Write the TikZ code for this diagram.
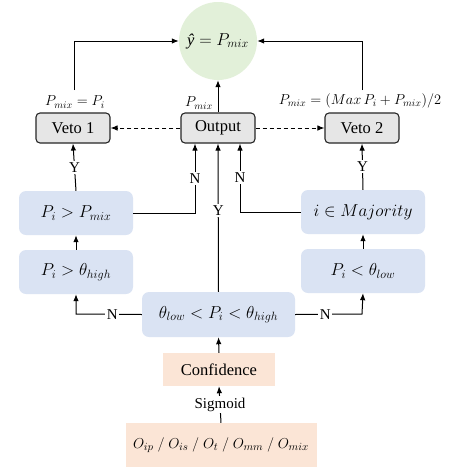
\documentclass[tikz,border=0pt]{standalone}
\usepackage{fontspec}
\setmainfont{Liberation Serif}
\usetikzlibrary{arrows.meta}
\definecolor{boxblue}{RGB}{218,227,243}
\definecolor{peach}{RGB}{251,229,214}
\definecolor{lgreen}{RGB}{226,240,217}
\definecolor{vgray}{RGB}{230,230,230}
\begin{document}
\begin{tikzpicture}[x=1pt,y=-1pt,
  every node/.style={font=\fontsize{16.5}{19}\selectfont},
  bluebox/.style={fill=boxblue, rounded corners=7pt, minimum width=114pt, minimum height=44pt, inner sep=0pt},
  graybox/.style={fill=vgray, draw=black!85, line width=1.1pt, rounded corners=4pt, minimum width=74pt, minimum height=30pt, inner sep=0pt},
  peachbox/.style={fill=peach, inner sep=0pt},
  conn/.style={line width=1pt, -{Latex[length=7pt,width=5.5pt]}},
  dconn/.style={conn, dashed, dash pattern=on 4pt off 3pt},
  yn/.style={fill=white, inner sep=1.5pt, font=\fontsize{15}{17}\selectfont},
  lab/.style={inner sep=0pt, font=\fontsize{14}{16}\selectfont}
]
\useasboundingbox (0,0) rectangle (453,467);
% output circle
\node[circle, fill=lgreen, minimum size=78pt, inner sep=0pt] (y) at (218,41) {{\itshape ŷ}$\;=P_{mix}$};
% veto row
\node[graybox] (v1) at (73,128) {Veto 1};
\node[graybox] (out) at (218,128) {Output};
\node[graybox] (v2) at (362,128) {Veto 2};
\node[lab] (l1) at (75,102) {$P_{mix}=P_i$};
\node[lab] (l2) at (199,103) {$P_{mix}$};
\node[lab] (l3) at (360,101) {$P_{mix}=(Max\,P_i+P_{mix})/2$};
% blue boxes
\node[bluebox] (c1) at (76,213) {$P_i>P_{mix}$};
\node[bluebox] (c2) at (76,272) {$P_i>\theta_{high}$};
\node[bluebox, minimum width=124pt] (c3) at (363,212) {$i\in Majority$};
\node[bluebox, minimum width=124pt] (c4) at (363,271) {$P_i<\theta_{low}$};
\node[bluebox, minimum width=153pt, minimum height=45pt] (mid) at (218.5,314.5) {$\theta_{low}<P_i<\theta_{high}$};
% peach boxes
\node[peachbox, minimum width=112pt, minimum height=33pt] (conf) at (219,369.5) {Confidence};
\node[peachbox, minimum width=191pt, minimum height=44pt] (o) at (221,445) {\fontsize{15}{17}\selectfont$O_{ip}\ /\ O_{is}\ /\ O_t\ /\ O_{mm}\ /\ O_{mix}$};
% coordinates
\coordinate (s1) at (74,90);
\coordinate (s2) at (362,90);
\coordinate (k1) at (195,213);
\coordinate (k2) at (240,212);
\coordinate (k3) at (76,314);
\coordinate (k4) at (362,314);
% connectors
\draw[conn] (o.north) -- node[yn, pos=0.5]{Sigmoid} (conf.south);
\draw[conn] (conf.north) -- (mid.south);
\draw[conn] (mid.west) -- node[yn, pos=0.45]{N} (k3) -- (c2.south);
\draw[conn] (mid.east) -- node[yn, pos=0.45]{N} (k4) -- (c4.south);
\draw[conn] (c2.north) -- (c1.south);
\draw[conn] (c4.north) -- (c3.south);
\draw[conn] (c1.north) -- node[yn]{Y} (v1.south);
\draw[conn] (c3.north) -- node[yn]{Y} (v2.south);
\draw[conn] (c1.east) -- (k1) -- node[yn, pos=0.5]{N} (k1 |- out.south);
\draw[conn] (c3.west) -- (k2) -- node[yn, pos=0.5]{N} (k2 |- out.south);
\draw[conn] (mid.north) -- node[yn, pos=0.55]{Y} (out.south);
\draw[dconn] (out.west) -- (v1.east);
\draw[dconn] (out.east) -- (v2.west);
\draw[conn] (out.north) -- (y.south);
\draw[conn] (s1) |- (y.west);
\draw[conn] (s2) |- (y.east);
\end{tikzpicture}
\end{document}
